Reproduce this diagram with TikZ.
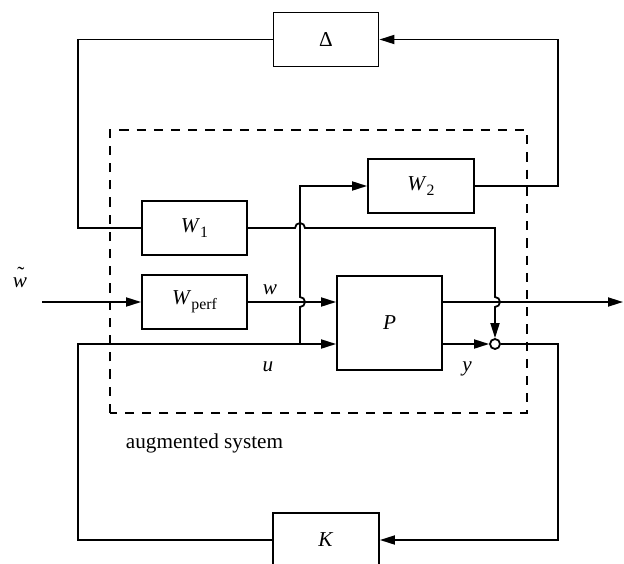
\documentclass[tikz,border=0pt]{standalone}
\usepackage{fontspec}
\setmainfont{Liberation Serif}
\usetikzlibrary{arrows.meta,calc}
\newcommand\mysub[1]{\raisebox{-0.5ex}{\fontsize{7.9}{8}\selectfont #1}}
\newcommand\mytildew{\ooalign{\textit{w}\cr\hidewidth\kern1pt\raisebox{0.62ex}{\char"02DC}\hidewidth\cr}}
\begin{document}
\begin{tikzpicture}[x=0.5pt,y=0.5pt,line width=0.9pt,
  txt/.style={font=\fontsize{10.6}{12}\selectfont},
  blk/.style={draw,rectangle,minimum width=52.5pt,minimum height=27pt,inner sep=0pt,txt},
  arr/.style={-{Triangle[length=7.5pt,width=4.5pt]}},
  lbl/.style={inner sep=0pt,txt},
  sumc/.style={draw,circle,minimum size=5pt,inner sep=0pt},
  frame/.style={dash pattern=on 4.6pt off 4pt}]
\useasboundingbox (0,0) rectangle (624,563);
% blocks
\node[blk] (D) at (326,523.5) {Δ};
\node[blk] (W1) at (194.5,335) {\textit{W}\mysub{1}};
\node[blk] (Wp) at (194.5,261) {\textit{W}\mysub{perf}};
\node[blk,minimum width=53pt] (W2) at (421,377) {\textit{W}\mysub{2}};
\node[blk,minimum height=47pt] (P) at (389.5,240) {\textit{P}};
\node[blk,minimum width=53pt] (K) at (326,23) {\textit{K}};
\node[sumc] (S) at (495,219) {};
% rails and free ends
\coordinate (L) at (78,0);
\coordinate (R) at (558,0);
\coordinate (B) at (300,0);
\coordinate (win) at (42,261);
\coordinate (out) at (623,261);
% dashed frame
\draw[frame] (110,150) rectangle (527,433);
% labels
\node[lbl] (lwt) at (20,280) {\mytildew};
\node[lbl] (lw) at (270,273) {\textit{w}};
\node[lbl] (lu) at (268,196) {\textit{u}};
\node[lbl] (ly) at (467,194) {\textit{y}};
\node[lbl,anchor=base west] (laug) at (125,115) {augmented system};
% connectors
\draw[arr] (win) -- (Wp.west);
\draw[arr] (Wp.east) -- (P.west |- Wp.east);
\draw[arr] (K.west) -- (K.west -| L) -- (S -| L) -- (P.west |- S);
\draw[arr] (S -| B) -- ($(Wp.east -| B)+(0,-5)$) arc[start angle=-90,end angle=90,radius=2.5pt]
  -- (W2.west -| B) -- (W2.west);
\draw (D.west) -- (D.west -| L) -- (W1.west -| L) -- (W1.west);
\draw[arr] (W1.east) -- ($(W1.east -| B)+(-5,0)$) arc[start angle=180,end angle=0,radius=2.5pt]
  -- (W1.east -| S) -- ($(Wp.east -| S)+(0,5)$) arc[start angle=90,end angle=-90,radius=2.5pt]
  -- (S.north);
\draw[arr] (P.east |- Wp.east) -- (out);
\draw[arr] (P.east |- S) -- (S.west);
\draw[arr] (S.east) -- (S.east -| R) -- (K.east -| R) -- (K.east);
\draw[arr] (W2.east) -- (W2.east -| R) -- (D.east -| R) -- (D.east);
\end{tikzpicture}
\end{document}
